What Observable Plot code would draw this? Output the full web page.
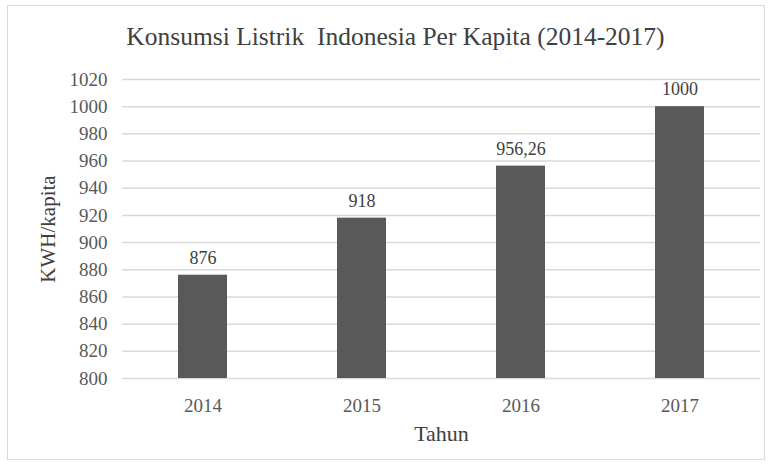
<!DOCTYPE html>
<html>
<head>
<meta charset="utf-8">
<script src="https://cdn.jsdelivr.net/npm/d3@7"></script>
<script src="https://cdn.jsdelivr.net/npm/@observablehq/plot@0.6"></script>
<style>
  html, body { margin: 0; padding: 0; background: #fff; }
  #frame { position: absolute; left: 7px; top: 5px; width: 758px; height: 455px; border: 1px solid #d9d9d9; box-sizing: border-box; }
  #title { position: absolute; left: 0; top: 22px; width: 791px; text-align: center; white-space: pre; line-height: 30px;
           font-family: "Liberation Serif", "Times New Roman", serif; font-size: 25.5px; color: #404040; }
  #chart { position: absolute; left: 0; top: 60px; }
  #chart svg, #chart svg text { font-family: "Liberation Serif", "Times New Roman", serif !important; }
</style>
</head>
<body>
<div id="frame"></div>
<div id="title">Konsumsi Listrik  Indonesia Per Kapita (2014-2017)</div>
<div id="chart"></div>
<script>
const years = ["2014", "2015", "2016", "2017"];
const values = [876, 918, 956.26, 1000];
const valueLabels = ["876", "918", "956,26", "1000"];
const yTicks = [800, 820, 840, 860, 880, 900, 920, 940, 960, 980, 1000, 1020];

const data = years.map((y, i) => ({year: y, value: values[i], label: valueLabels[i]}));
const serif = "'Liberation Serif', 'Times New Roman', serif";

const chart = Plot.plot({
  width: 771,
  height: 395,
  marginLeft: 122,
  marginRight: 11,
  marginTop: 19,
  marginBottom: 77,
  style: {fontFamily: serif, fontSize: "18px", color: "#595959", background: "transparent"},
  x: {domain: years, paddingInner: 0.69, paddingOuter: 0.345, align: 0.5, label: null},
  y: {domain: [800, 1020], label: null},
  marks: [
    Plot.gridY(yTicks, {stroke: "#d9d9d9", strokeOpacity: 1, strokeWidth: 1.5}),
    Plot.barY(data, {x: "year", y1: 800, y2: "value", fill: "#595959"}),
    Plot.text(data, {x: "year", y: "value", text: "label", dy: -17, fill: "#404040", fontSize: 18, fontFamily: serif}),
    Plot.axisY({ticks: yTicks, tickFormat: d => String(d), tickSize: 0, tickPadding: 15, fontSize: 19, fontFamily: serif,
                label: "KWH/kapita", labelAnchor: "center", labelArrow: "none", labelOffset: 82}),
    Plot.axisX({tickSize: 0, tickPadding: 20, fontSize: 19, fontFamily: serif,
                label: "Tahun", labelAnchor: "center", labelArrow: "none", labelOffset: 62})
  ]
});
document.getElementById("chart").appendChild(chart);
chart.querySelectorAll("[aria-label='y-axis label'] text").forEach(t => {
  t.setAttribute("font-size", "21"); t.setAttribute("fill", "#404040");
});
chart.querySelectorAll("[aria-label='x-axis label'] text").forEach(t => {
  t.setAttribute("font-size", "22"); t.setAttribute("fill", "#404040");
});
</script>
</body>
</html>
